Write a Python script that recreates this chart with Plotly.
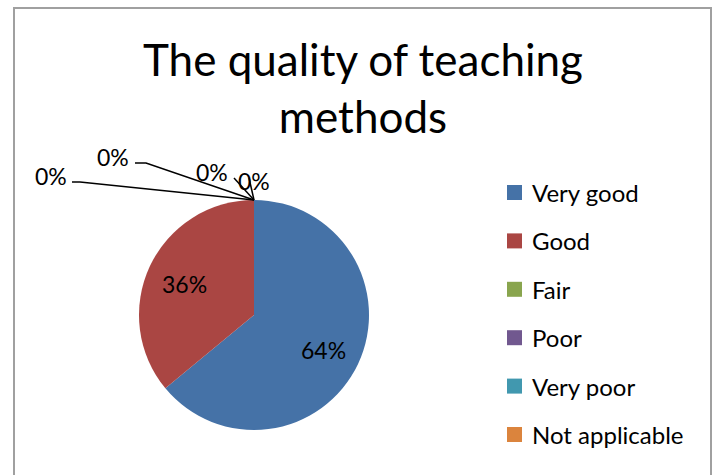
import math
import plotly.graph_objects as go

categories = ["Very good", "Good", "Fair", "Poor", "Very poor", "Not applicable"]
values = [64, 36, 0, 0, 0, 0]
colors = ["#4572A7", "#AA4643", "#89A54E", "#71588F", "#4198AF", "#DB843D"]
title_text = "The quality of teaching<br>methods"

W, H = 717, 475
FONT = "Lato, Carlito, Calibri, sans-serif"
CX, CY, R = 254, 315, 115

def px(x):
    return x / W

def py(y):
    return 1 - y / H

fig = go.Figure(go.Pie(
    labels=categories,
    values=values,
    sort=False,
    direction="clockwise",
    rotation=0,
    marker=dict(colors=colors, line=dict(width=0)),
    textinfo="none",
    showlegend=False,
    hoverinfo="label+percent",
    domain=dict(x=[px(CX - R), px(CX + R)], y=[py(CY + R), py(CY - R)]),
))

shapes = []
annotations = []

# chart border
shapes.append(dict(type="rect", xref="paper", yref="paper",
                   x0=px(14), x1=px(711), y0=py(490), y1=py(8),
                   line=dict(color="#a0a0a0", width=2), fillcolor="rgba(0,0,0,0)"))

# title
annotations.append(dict(text=title_text, x=px(363), y=py(88), xref="paper", yref="paper",
                        xanchor="center", yanchor="middle", showarrow=False,
                        font=dict(family=FONT, size=44, color="#000000")))

# inside labels for non-zero slices (at slice mid-angle)
total = sum(values)
cum = 0
for v in values:
    if v > 0:
        mid = (cum + v / 2) / total * 2 * math.pi
        lx = CX + 0.67 * R * math.sin(mid)
        ly = CY - 0.67 * R * math.cos(mid) + 2
        annotations.append(dict(text=f"{round(100 * v / total)}%", x=px(lx), y=py(ly),
                                xref="paper", yref="paper", xanchor="center", yanchor="middle",
                                showarrow=False, font=dict(family=FONT, size=23, color="#000000")))
    cum += v

# outside zero-value labels with leader lines
zero_labels = [
    ((51, 176), "M {} {} L {} {} L {} {}".format(px(72), py(182), px(80), py(182), px(254), py(200))),
    ((113, 157), "M {} {} L {} {} L {} {}".format(px(135), py(163), px(146), py(163), px(254), py(200))),
    ((212, 172), "M {} {} L {} {}".format(px(234), py(178), px(254), py(200))),
    ((254, 181), "M {} {} L {} {}".format(px(249), py(178), px(254), py(200))),
]
zero_idx = [i for i, v in enumerate(values) if v == 0]
for (pos, path), i in zip(zero_labels, zero_idx):
    annotations.append(dict(text=f"{values[i]}%", x=px(pos[0]), y=py(pos[1]),
                            xref="paper", yref="paper", xanchor="center", yanchor="middle",
                            showarrow=False, font=dict(family=FONT, size=23, color="#000000")))
    shapes.append(dict(type="path", xref="paper", yref="paper", path=path,
                       line=dict(color="#000000", width=1.5)))

# legend
leg_y0, leg_dy = 192.5, 48.4
for k, (cat, col) in enumerate(zip(categories, colors)):
    yc = leg_y0 + k * leg_dy
    shapes.append(dict(type="rect", xref="paper", yref="paper",
                       x0=px(507), x1=px(522), y0=py(yc + 7.5), y1=py(yc - 7.5),
                       fillcolor=col, line=dict(width=0)))
    annotations.append(dict(text=cat, x=px(530), y=py(yc), xref="paper", yref="paper",
                            xanchor="left", yanchor="middle", showarrow=False,
                            font=dict(family=FONT, size=24, color="#000000")))

fig.update_layout(
    width=W, height=H,
    margin=dict(l=0, r=0, t=0, b=0),
    paper_bgcolor="#ffffff",
    plot_bgcolor="#ffffff",
    shapes=shapes,
    annotations=annotations,
)

fig.write_html("out.html", config={"displayModeBar": False},
               post_script="document.body.style.margin='0';")
